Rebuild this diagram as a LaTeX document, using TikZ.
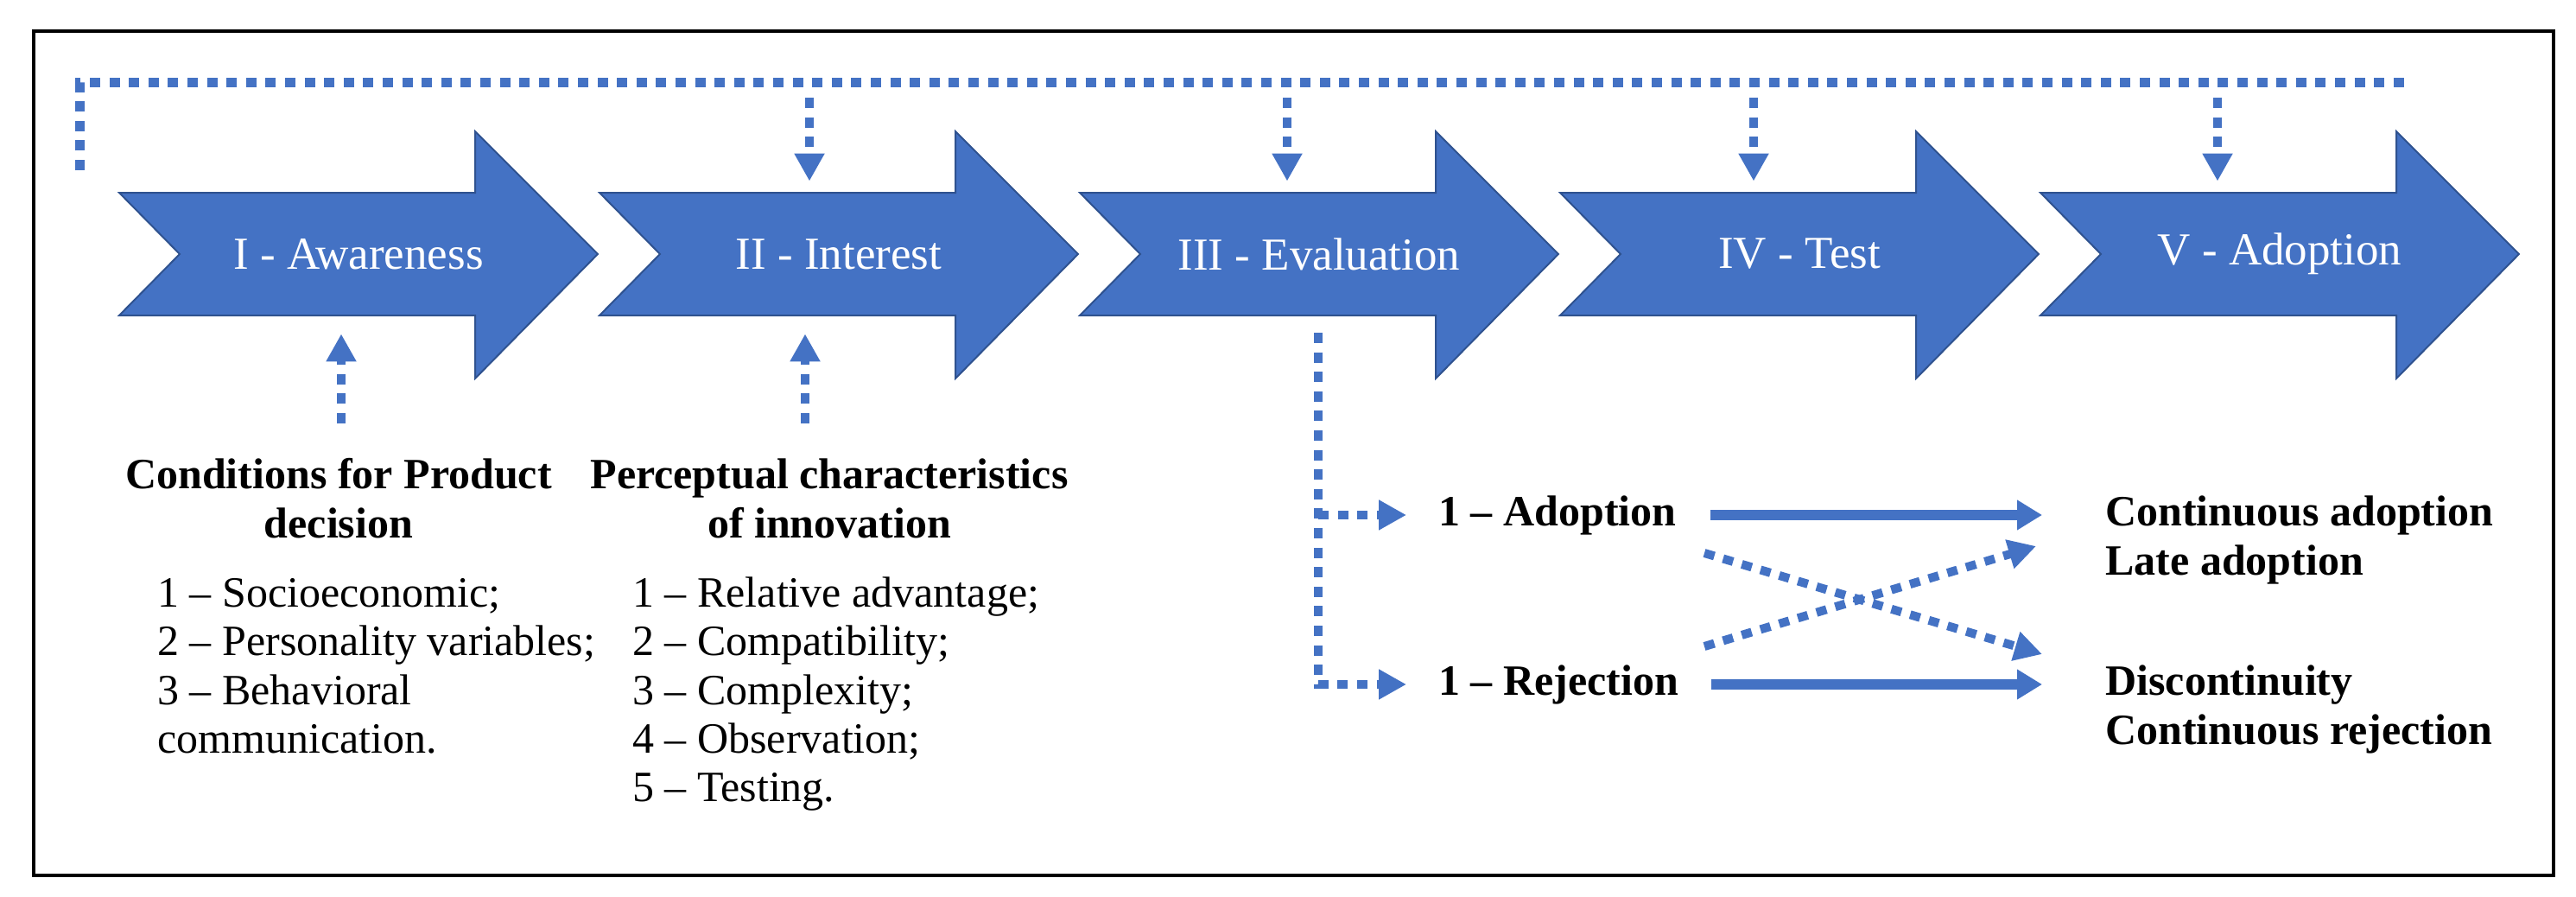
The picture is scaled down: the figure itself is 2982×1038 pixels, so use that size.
\documentclass[tikz,border=0pt]{standalone}
\usepackage{fontspec}
\setmainfont{Liberation Serif}
\usetikzlibrary{arrows.meta}
\definecolor{stageblue}{HTML}{4472C4}
\definecolor{stageedge}{HTML}{2F528F}
\tikzset{
  stagearrow/.style={fill=stageblue, draw=stageedge, line width=1pt, line join=miter},
  stagetext/.style={text=white, font=\fontsize{26.5}{30}\selectfont, inner sep=0pt, minimum height=71pt},
  bodytext/.style={font=\fontsize{25}{28}\selectfont, inner sep=0pt},
  headtext/.style={inner sep=0pt, font=\fontsize{25}{28}\selectfont\bfseries},
  dots/.style={draw=stageblue, line width=5pt, dash pattern=on 6pt off 5.3pt},
  dotarrow/.style={dots, -{Triangle[width=16.5pt,length=16pt]}},
  solidarrow/.style={draw=stageblue, line width=6pt, -{Triangle[width=16.5pt,length=14.5pt]}}
}
\begin{document}
\begin{tikzpicture}[x=0.5pt,y=-0.5pt]
\useasboundingbox (0,0) rectangle (2982,1038);
\draw[line width=2pt] (39,36) rectangle (2956,1013);

\foreach \i/\lab in {1/I - Awareness,2/II - Interest,3/III - Evaluation,4/IV - Test,5/V - Adoption}{
	\pgfmathsetmacro{\L}{138+556*(\i-1)}
	\draw[stagearrow] (\L,223) -- ++(412,0) -- ++(0,-71) -- ++(142,142) -- ++(-142,144) -- ++(0,-73) -- ++(-412,0) -- ++(70,-71) -- cycle;
	\node[stagetext] (s\i) at (\L+277,294) {\lab};
}

\coordinate (fb0) at (92,197);
\coordinate (fb1) at (2786,96);
\draw[dots, line width=5.5pt] (fb0) |- (fb1);
\foreach \i/\x in {2/937,3/1490,4/2030,5/2567}{
	\coordinate (drop\i) at (\x,113);
	\draw[dotarrow, shorten >=6.5pt] (drop\i) -- (drop\i |- s\i.north);
}
\foreach \i/\x in {1/395,2/932}{
	\coordinate (rise\i) at (\x,490);
	\draw[dotarrow, shorten >=10.5pt] (rise\i) -- (rise\i |- s\i.south);
}

\foreach \t [count=\n] in {Conditions for Product,decision}
	\node[headtext, anchor=base] (ch\n) at (392,508+57*\n) {\t};
\foreach \t [count=\n] in {1 – Socioeconomic;,2 – Personality variables;,3 – Behavioral,communication.}
	\node[bodytext, anchor=base west] (c\n) at (182,645.5+56.5*\n) {\t};
\foreach \t [count=\n] in {Perceptual characteristics,of innovation}
	\node[headtext, anchor=base] (ph\n) at (960,508+57*\n) {\t};
\foreach \t [count=\n] in {1 – Relative advantage;,2 – Compatibility;,3 – Complexity;,4 – Observation;,5 – Testing.}
	\node[bodytext, anchor=base west] (p\n) at (732,646.5+56.2*\n) {\t};

\node[headtext, anchor=base west] (adp) at (1665,608) {1 – Adoption};
\node[headtext, anchor=base west] (rej) at (1665,804) {1 – Rejection};
\node[headtext, anchor=base west] (cad) at (2437,608) {Continuous adoption};
\node[headtext, anchor=base west] (lad) at (2437,665) {Late adoption};
\node[headtext, anchor=base west] (dis) at (2437,804) {Discontinuity};
\node[headtext, anchor=base west] (cre) at (2437,861) {Continuous rejection};

\coordinate (evtop) at (1526,385);
\draw[dotarrow, shorten >=18.5pt] (evtop) |- (rej.west);
\draw[dotarrow, shorten >=18.5pt] (evtop |- adp.west) -- (adp.west);

\draw[solidarrow, shorten <=19.5pt, shorten >=36.5pt] (adp.east) -- (adp.east -| cad.west);
\draw[solidarrow, shorten <=18.5pt, shorten >=36.5pt] (rej.east) -- (rej.east -| dis.west);

\coordinate (xa) at (1973,640);
\coordinate (xb) at (1973,748);
\coordinate (xc) at (2364,757);
\coordinate (xd) at (2357,632);
\draw[dotarrow] (xa) -- (xc);
\draw[dotarrow] (xb) -- (xd);
\end{tikzpicture}
\end{document}
